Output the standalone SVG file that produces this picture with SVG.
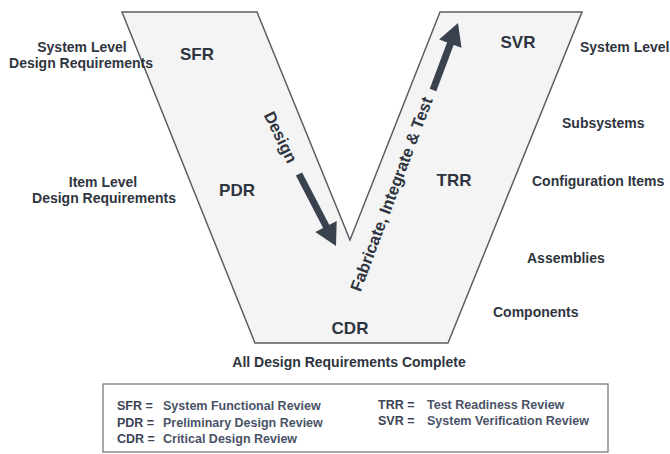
<svg xmlns="http://www.w3.org/2000/svg" width="670" height="454" viewBox="0 0 670 454">
  <style>
    .lbl { font-family: "Liberation Sans", Arial, sans-serif; font-weight: bold; font-size: 14px; fill: #2f3540; }
    .rev { font-family: "Liberation Sans", Arial, sans-serif; font-weight: bold; font-size: 17px; fill: #2f3540; text-anchor: middle; }
    .phase { font-family: "Liberation Sans", Arial, sans-serif; font-weight: bold; font-size: 16.5px; fill: #2f3540; text-anchor: middle; }
    .leg { font-family: "Liberation Sans", Arial, sans-serif; font-weight: bold; font-size: 12.5px; fill: #3d4455; }
    .legd { font-family: "Liberation Sans", Arial, sans-serif; font-weight: bold; font-size: 12.5px; fill: #4a5368; }
    .mid { text-anchor: middle; }
    .shaft { stroke: #3a4250; stroke-width: 7; fill: none; }
    .head { fill: #3a4250; }
  </style>
  <rect width="670" height="454" fill="#ffffff"/>

  <g id="v-shape">
    <polygon points="122,12 257,12 350,240 440,12 582,12 448,343 255,343" fill="#f4f4f4" stroke="#5a5f66" stroke-width="1.5" stroke-linejoin="miter"/>
  </g>

  <g id="connectors">
    <g id="design-arrow">
      <line class="shaft" x1="299" y1="174" x2="327" y2="228"/>
      <polygon class="head" points="336,246 336.7,220.9 315.3,231.9"/>
    </g>
    <g id="fit-arrow">
      <line class="shaft" x1="433" y1="90" x2="451" y2="42"/>
      <polygon class="head" points="458,23 461.5,47.8 439.1,39.4"/>
    </g>
  </g>

  <g id="phase-labels">
    <text class="phase" transform="translate(281,137) rotate(64)" dy="6">Design</text>
    <text class="phase" transform="translate(391,194) rotate(-69.4)" dy="6">Fabricate, Integrate &amp; Test</text>
  </g>

  <g id="review-SFR"><text class="rev" x="197" y="60">SFR</text></g>
  <g id="review-PDR"><text class="rev" x="237" y="196">PDR</text></g>
  <g id="review-CDR"><text class="rev" x="350" y="334">CDR</text></g>
  <g id="review-TRR"><text class="rev" x="454" y="186">TRR</text></g>
  <g id="review-SVR"><text class="rev" x="518" y="48">SVR</text></g>

  <g id="left-system-level">
    <text class="lbl mid" x="82" y="52">System Level</text>
    <text class="lbl mid" x="81" y="68">Design Requirements</text>
  </g>
  <g id="left-item-level">
    <text class="lbl mid" x="103" y="187">Item Level</text>
    <text class="lbl mid" x="104" y="203">Design Requirements</text>
  </g>

  <g id="right-system-level"><text class="lbl" x="580" y="52">System Level</text></g>
  <g id="right-subsystems"><text class="lbl" x="562" y="128">Subsystems</text></g>
  <g id="right-config-items"><text class="lbl" x="532" y="186">Configuration Items</text></g>
  <g id="right-assemblies"><text class="lbl" x="527" y="263">Assemblies</text></g>
  <g id="right-components"><text class="lbl" x="493" y="317">Components</text></g>

  <g id="bottom-label"><text class="lbl mid" x="349" y="367">All Design Requirements Complete</text></g>

  <g id="legend">
    <rect x="103" y="384" width="505" height="68" fill="#ffffff" stroke="#6a6e75" stroke-width="1.2"/>
    <text class="leg" x="117" y="410">SFR =</text>
    <text class="legd" x="163" y="410">System Functional Review</text>
    <text class="leg" x="117" y="427">PDR =</text>
    <text class="legd" x="163" y="427">Preliminary Design Review</text>
    <text class="leg" x="117" y="443">CDR =</text>
    <text class="legd" x="163" y="443">Critical Design Review</text>
    <text class="leg" x="378" y="409">TRR =</text>
    <text class="legd" x="427" y="409">Test Readiness Review</text>
    <text class="leg" x="378" y="425">SVR =</text>
    <text class="legd" x="427" y="425">System Verification Review</text>
  </g>
</svg>
